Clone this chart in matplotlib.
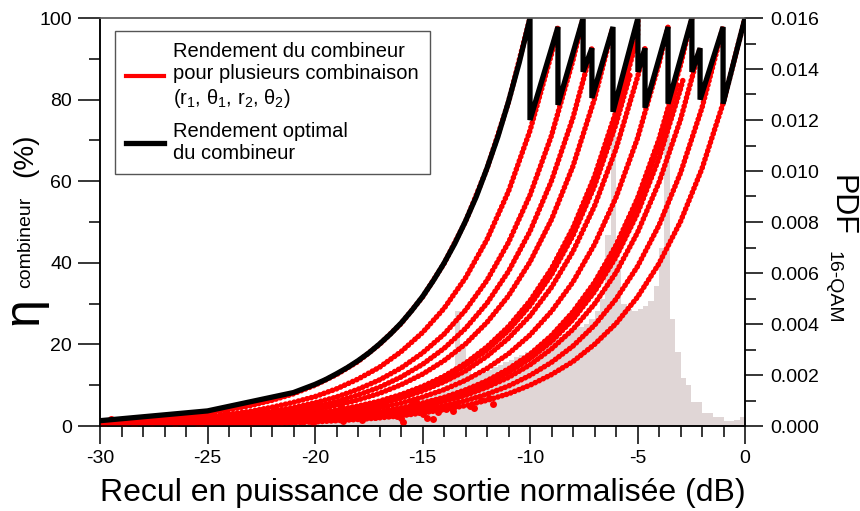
import matplotlib
matplotlib.use('Agg')
import matplotlib.pyplot as plt
from matplotlib.lines import Line2D
from matplotlib.ticker import MultipleLocator, FormatStrFormatter
import numpy as np

plt.rcParams['font.family'] = ['Liberation Sans', 'DejaVu Sans']
plt.rcParams['mathtext.fontset'] = 'custom'
plt.rcParams['mathtext.rm'] = 'Liberation Sans'
plt.rcParams['mathtext.it'] = 'Liberation Sans:italic'
plt.rcParams['axes.unicode_minus'] = False

# Courbes rouges : valeurs lues tous les 1 dB à partir de -30 dB, puis point final (sommet)
x_grid = list(range(-30, 1))

peak_x = [-10.0, -8.7, -7.53, -7.12, -6.14, -5.35, -5.6, -4.98, -4.65, -3.58,
          -2.85, -3.1, -2.47, -2.09, -1.02, 0.0]
peak_eta = [100, 97.8, 100, 92.6, 97.8, 86, 84.5, 100, 92.6, 97.8,
            85.5, 84.5, 100, 92.6, 97.8, 100]

eta_curves = [
    [1.0, 1.3, 1.6, 2.0, 2.5, 3.2, 4.0, 5.0, 6.3, 7.9, 10.0, 12.6, 15.8, 20.0, 25.1, 31.6, 39.8, 50.1, 63.1, 79.4],
    [0.72, 0.91, 1.15, 1.4, 1.8, 2.3, 2.9, 3.6, 4.6, 5.8, 7.2, 9.1, 11.5, 14.4, 18.2, 22.9, 28.8, 36.3, 45.7, 57.5, 72.4, 91.2],
    [0.57, 0.71, 0.9, 1.1, 1.4, 1.8, 2.25, 2.8, 3.6, 4.5, 5.7, 7.1, 9.0, 11.3, 14.2, 17.9, 22.5, 28.4, 35.7, 45.0, 56.6, 71.2, 89.7],
    [0.48, 0.6, 0.76, 0.95, 1.2, 1.5, 1.9, 2.4, 3.0, 3.8, 4.8, 6.0, 7.6, 9.5, 12.0, 15.1, 19.0, 23.9, 30.1, 37.9, 47.7, 60.1, 75.6],
    [0.4, 0.51, 0.64, 0.8, 1.0, 1.3, 1.6, 2.0, 2.5, 3.2, 4.0, 5.1, 6.4, 8.0, 10.1, 12.7, 16.0, 20.1, 25.4, 31.9, 40.2, 50.6, 63.7, 80.2],
    [0.29, 0.37, 0.47, 0.59, 0.74, 0.93, 1.2, 1.5, 1.9, 2.3, 2.9, 3.7, 4.7, 5.9, 7.4, 9.3, 11.7, 14.8, 18.6, 23.4, 29.5, 37.1, 46.7, 58.8, 74.0],
    [0.31, 0.39, 0.49, 0.61, 0.77, 0.97, 1.2, 1.5, 1.9, 2.4, 3.1, 3.9, 4.9, 6.1, 7.7, 9.7, 12.2, 15.4, 19.4, 24.4, 30.7, 38.6, 48.6, 61.2, 77.1],
    [0.3, 0.38, 0.48, 0.6, 0.76, 0.95, 1.2, 1.5, 1.9, 2.4, 3.0, 3.8, 4.8, 6.0, 7.6, 9.5, 12.0, 15.1, 19.1, 24.0, 30.2, 38.0, 47.9, 60.3, 75.9, 95.5],
    [0.27, 0.34, 0.43, 0.54, 0.68, 0.86, 1.08, 1.35, 1.7, 2.1, 2.7, 3.4, 4.3, 5.4, 6.8, 8.6, 10.8, 13.5, 17.1, 21.5, 27.0, 34.0, 42.8, 53.9, 67.9, 85.5],
    [0.22, 0.28, 0.35, 0.45, 0.56, 0.71, 0.89, 1.1, 1.4, 1.8, 2.2, 2.8, 3.5, 4.5, 5.6, 7.1, 8.9, 11.2, 14.1, 17.7, 22.3, 28.1, 35.3, 44.5, 56.0, 70.5, 88.8],
    [0.17, 0.21, 0.26, 0.33, 0.41, 0.52, 0.66, 0.83, 1.04, 1.3, 1.65, 2.1, 2.6, 3.3, 4.1, 5.2, 6.6, 8.3, 10.4, 13.1, 16.5, 20.7, 26.1, 32.9, 41.4, 52.1, 65.6, 82.6],
    [0.17, 0.22, 0.27, 0.34, 0.43, 0.55, 0.69, 0.87, 1.1, 1.4, 1.7, 2.2, 2.7, 3.4, 4.3, 5.5, 6.9, 8.7, 10.9, 13.7, 17.3, 21.7, 27.3, 34.4, 43.3, 54.6, 68.7],
    [0.18, 0.22, 0.28, 0.35, 0.44, 0.56, 0.7, 0.89, 1.1, 1.4, 1.8, 2.2, 2.8, 3.5, 4.4, 5.6, 7.0, 8.85, 11.1, 14.0, 17.6, 22.2, 28.0, 35.2, 44.3, 55.8, 70.3, 88.5],
    [0.15, 0.19, 0.24, 0.3, 0.38, 0.47, 0.6, 0.75, 0.95, 1.2, 1.5, 1.9, 2.4, 3.0, 3.8, 4.7, 6.0, 7.5, 9.5, 11.9, 15.0, 18.9, 23.7, 29.9, 37.6, 47.4, 59.7, 75.1],
    [0.12, 0.16, 0.2, 0.25, 0.31, 0.39, 0.49, 0.62, 0.78, 0.98, 1.24, 1.56, 1.96, 2.5, 3.1, 3.9, 4.9, 6.2, 7.8, 9.8, 12.4, 15.6, 19.6, 24.7, 31.1, 39.1, 49.2, 62.0, 78.0],
    [0.1, 0.13, 0.16, 0.2, 0.25, 0.32, 0.4, 0.5, 0.63, 0.79, 1.0, 1.3, 1.6, 2.0, 2.5, 3.2, 4.0, 5.0, 6.3, 7.9, 10.0, 12.6, 15.8, 20.0, 25.1, 31.6, 39.8, 50.1, 63.1, 79.4],
]

# points dispersés à faible rendement
scatter_x = [-29.8, -29.5, -29.1, -28.7, -28.4, -28.0, -27.6, -27.3, -26.9, -26.5, -26.2, -25.8, -25.5, -25.1, -24.8,
             -24.4, -24.1, -23.7, -23.4, -23.0, -22.7, -22.3, -22.0, -21.6, -21.3, -20.9, -20.6, -20.2, -19.9, -19.5,
             -19.2, -18.8, -18.5, -18.1, -17.8, -17.4, -17.1, -16.7, -16.4, -16.0, -15.7, -15.3, -15.0, -14.6, -14.3,
             -24.6, -24.0, -23.2, -22.5, -21.9, -21.1, -20.4, -19.7, -19.0, -18.3, -17.6, -16.9, -16.2, -15.5, -14.8,
             -28.9, -27.9, -26.7, -25.3, -23.9, -22.9, -21.4, -20.1, -18.7, -17.2, -15.9, -14.5,
             -13.9, -13.4, -12.8, -12.3, -11.7, -13.6, -12.6, -11.9]
scatter_eta = [0.4, 1.6, 0.9, 1.2, 0.3, 1.8, 0.8, 2.1, 1.1, 0.5, 2.4, 1.4, 0.7, 2.6, 1.9,
               0.9, 3.0, 1.5, 2.2, 0.8, 3.3, 1.7, 2.8, 1.1, 3.6, 2.3, 1.3, 4.1, 2.6, 1.6,
               3.4, 4.6, 2.0, 3.0, 1.4, 4.4, 2.7, 5.1, 3.4, 1.9, 4.0, 5.8, 2.9, 4.6, 3.5,
               2.2, 1.2, 3.1, 1.9, 3.9, 2.7, 1.5, 3.7, 2.3, 4.0, 3.2, 4.8, 2.4, 5.3, 2.0,
               0.6, 1.3, 1.7, 0.5, 2.0, 0.9, 1.8, 0.7, 1.2, 2.1, 1.0, 1.6,
               4.2, 5.6, 4.9, 6.3, 5.4, 3.6, 4.4, 6.9]

# rendement optimal (enveloppe)
black_x = [-30, -25, -21, -20, -19.5, -19, -18.5, -18, -17.5, -17, -16.5, -16, -15.5, -15, -14.5, -14, -13.5, -13,
           -12.5, -12, -11.5, -11, -10.5, -10,
           -10, -8.7, -8.7, -7.53, -7.53, -7.12, -7.12, -6.14, -6.14, -4.98, -4.98, -4.65, -4.65, -3.58,
           -3.58, -2.47, -2.47, -2.09, -2.09, -1.02, -1.02, 0]
black_eta = [1.3, 3.7, 8.2, 10.2, 11.4, 12.8, 14.3, 16.0, 17.9, 20.1, 22.5, 25.2, 28.3, 31.7, 35.6, 39.9, 44.7, 50.2,
             56.2, 63.2, 70.8, 79.5, 89.1, 100,
             75, 97.8, 78.7, 100, 86.8, 92.6, 80.4, 97.8, 77, 100, 86.8, 92.6, 78, 97.8,
             79, 100, 86.8, 92.6, 80, 97.8, 79, 100]

# PDF 16-QAM, classes de 0.25 dB de -30 à 0 dB (valeurs x 1e-3)
pdf_edges = np.arange(-30, 0.001, 0.25)
pdf_vals = [0.15, 0.18, 0.2, 0.17, 0.22, 0.2, 0.25, 0.22, 0.28, 0.25,
            0.3, 0.28, 0.33, 0.3, 0.35, 0.33, 0.38, 0.36, 0.4, 0.38,
            0.42, 0.4, 0.45, 0.43, 0.48, 0.46, 0.5, 0.48, 0.52, 0.5,
            0.55, 0.53, 0.58, 0.55, 0.6, 0.58, 0.62, 0.6, 0.65, 0.63,
            0.68, 0.66, 0.7, 0.68, 0.72, 0.7, 0.75, 0.73, 0.78, 0.76,
            0.8, 0.78, 0.85, 0.82, 0.9, 0.88, 0.95, 0.92, 1.0, 1.05,
            1.1, 1.15, 1.3, 1.4, 1.6, 1.8, 4.5, 3.1, 2.2, 2.0,
            2.0, 2.1, 2.2, 2.3, 2.4, 2.5, 2.6, 2.7, 2.8, 2.9,
            3.0, 3.1, 3.2, 3.3, 3.4, 3.5, 3.6, 3.7, 3.8, 3.9,
            4.0, 4.2, 4.5, 5.0, 7.5, 11.5, 6.5, 4.8, 4.6, 4.5,
            4.6, 4.7, 4.9, 5.5, 7.0, 12.0, 4.2, 2.9, 1.9, 1.6,
            0.94, 0.94, 0.5, 0.5, 0.35, 0.35, 0.2, 0.2, 0.25, 0.35]

fig = plt.figure(figsize=(8.6, 5.11), dpi=100)
ax = fig.add_axes([100 / 860, 85 / 511, 645 / 860, 408 / 511])
ax2 = ax.twinx()

ax2.stairs(np.array(pdf_vals) * 1e-3, pdf_edges, fill=True, color='#e0d6d6', lw=0)
ax2.set_ylim(0, 0.016)

ax.set_zorder(ax2.get_zorder() + 1)
ax.patch.set_visible(False)

red = '#ff0000'
ax.plot(scatter_x, scatter_eta, 'o', color=red, ms=5, mec='none')
for i, vals in enumerate(eta_curves):
    xs = x_grid[:len(vals)] + [peak_x[i]]
    ys = vals + [peak_eta[i]]
    ax.plot(xs, ys, color=red, lw=4.0, linestyle=(0, (0.05, 0.75)), dash_capstyle='round')
ax.plot(black_x, black_eta, color='black', lw=3.8, solid_joinstyle='miter')

ax.set_xlim(-30, 0)
ax.set_ylim(0, 100)

ax.xaxis.set_major_locator(MultipleLocator(5))
ax.xaxis.set_minor_locator(MultipleLocator(1))
ax.yaxis.set_major_locator(MultipleLocator(20))
ax.yaxis.set_minor_locator(MultipleLocator(10))
ax2.yaxis.set_major_locator(MultipleLocator(0.002))
ax2.yaxis.set_minor_locator(MultipleLocator(0.001))
ax2.yaxis.set_major_formatter(FormatStrFormatter('%.3f'))

for a in (ax, ax2):
    a.tick_params(which='major', direction='out', length=13, width=1.1, labelsize=14, pad=4)
    a.tick_params(which='minor', direction='out', length=8, width=1.1)
    for s in a.spines.values():
        s.set_linewidth(1.1)
    a.spines['top'].set_color('#666666')
ax.tick_params(axis='y', which='major', length=16)
ax2.tick_params(axis='y', which='major', pad=5)

ax.set_xlabel('Recul en puissance de sortie normalisée (dB)', fontsize=23, labelpad=8)

# étiquette gauche : eta_combineur (%)
fig.text(24 / 860, 1 - 311 / 511, 'η', rotation=90, fontsize=36, ha='center', va='center')
fig.text(26 / 860, 1 - 242 / 511, 'combineur', rotation=90, fontsize=14, ha='center', va='center')
fig.text(25 / 860, 1 - 155 / 511, '(%)', rotation=90, fontsize=20, ha='center', va='center')

# étiquette droite : PDF 16-QAM
fig.text(842 / 860, 1 - 205 / 511, 'PDF', rotation=270, fontsize=22, ha='center', va='center')
fig.text(833 / 860, 1 - 287 / 511, '16-QAM', rotation=270, fontsize=14, ha='center', va='center')

handles = [Line2D([], [], color=red, lw=3), Line2D([], [], color='black', lw=3.8)]
labels = ['Rendement du combineur\npour plusieurs combinaison\n(r$_1$, θ$_1$, r$_2$, θ$_2$)',
          'Rendement optimal\ndu combineur']
leg = ax.legend(handles, labels, loc='upper left', bbox_to_anchor=(0.023, 0.968), borderaxespad=0,
                fontsize=14.5, frameon=True, fancybox=False, edgecolor='#555555', framealpha=1,
                handlelength=1.9, handletextpad=0.45, borderpad=0.55, labelspacing=0.6)
leg.get_frame().set_linewidth(1.0)

fig.savefig('out.png', dpi=100)
